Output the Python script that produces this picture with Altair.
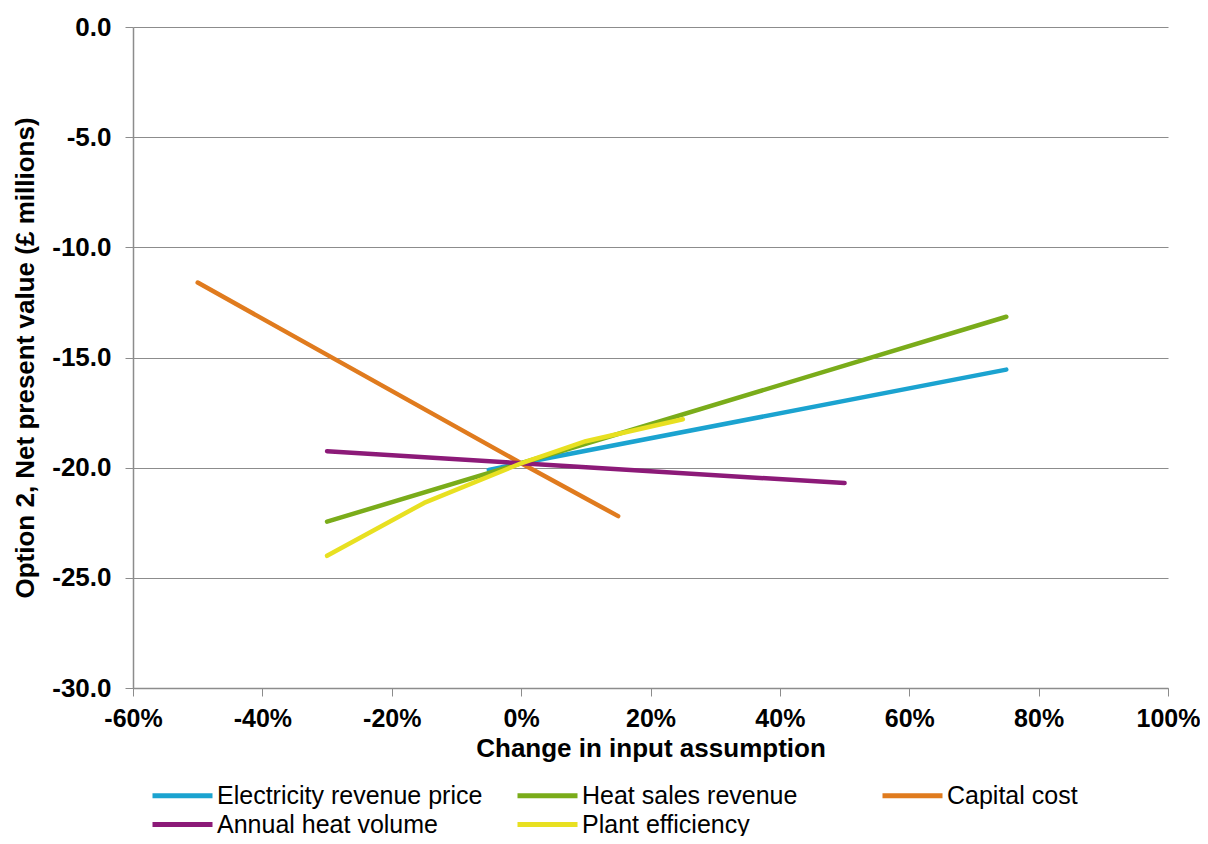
import altair as alt
import pandas as pd

series_names = ["Electricity revenue price", "Heat sales revenue", "Capital cost",
                "Annual heat volume", "Plant efficiency"]
colors = ["#1ba3d0", "#7aac1a", "#e07b1e", "#8c1a78", "#e8e021"]

elec_x = [-0.05, 0.0, 0.75]
elec_y = [-20.1, -19.8, -15.55]
heat_x = [-0.30, 0.0, 0.75]
heat_y = [-22.45, -19.8, -13.15]
cap_x = [-0.50, 0.0, 0.15]
cap_y = [-11.6, -19.8, -22.2]
vol_x = [-0.30, 0.0, 0.50]
vol_y = [-19.25, -19.8, -20.7]
eff_x = [-0.30, -0.15, 0.0, 0.10, 0.25]
eff_y = [-24.0, -21.6, -19.8, -18.8, -17.8]

x_ticks = [-0.6, -0.4, -0.2, 0, 0.2, 0.4, 0.6, 0.8, 1.0]
y_ticks = [-30, -25, -20, -15, -10, -5, 0]

rows = []
for name, xs, ys in zip(series_names,
                        [elec_x, heat_x, cap_x, vol_x, eff_x],
                        [elec_y, heat_y, cap_y, vol_y, eff_y]):
    for i, (a, b) in enumerate(zip(xs, ys)):
        rows.append({"series": name, "x": a, "y": b, "order": i})
df = pd.DataFrame(rows)

font = "Liberation Sans"
fs = 26

chart = alt.Chart(df).mark_line(strokeWidth=4.5, strokeCap="round", strokeJoin="round").encode(
    x=alt.X("x:Q", scale=alt.Scale(domain=[-0.6, 1.0], nice=False),
            axis=alt.Axis(title="Change in input assumption",
                          labelExpr="replace(format(datum.value, '.0%'), '\u2212', '-')",
                          values=x_ticks,
                          grid=False, tickSize=8, labelPadding=10,
                          labelFontSize=25, labelFontWeight="bold", labelFont=font,
                          titleFontSize=fs, titleFontWeight="bold", titleFont=font,
                          titlePadding=4, labelColor="#000", titleColor="#000",
                          domainColor="#8c8c8c", tickColor="#8c8c8c", domainWidth=1.5,
                          labelFlush=False)),
    y=alt.Y("y:Q", scale=alt.Scale(domain=[-30, 0], nice=False),
            axis=alt.Axis(title="Option 2, Net present value (£ millions)",
                          labelExpr="replace(format(datum.value, '.1f'), '\u2212', '-')",
                          values=y_ticks,
                          grid=True, gridColor="#8c8c8c", gridWidth=1.2,
                          tickSize=8, labelPadding=14,
                          labelFontSize=fs, labelFontWeight="bold", labelFont=font,
                          titleFontSize=fs, titleFontWeight="bold", titleFont=font,
                          titlePadding=13, labelColor="#000", titleColor="#000",
                          domainColor="#8c8c8c", tickColor="#8c8c8c", domainWidth=1.5)),
    color=alt.Color("series:N", scale=alt.Scale(domain=series_names, range=colors),
                    legend=alt.Legend(title=None, orient="none", legendX=35, legendY=754,
                                      direction="horizontal",
                                      columns=3, gridAlign="all", columnPadding=24,
                                      rowPadding=1, padding=0,
                                      symbolType="M-2.5,0H2.5", symbolSize=576,
                                      symbolStrokeWidth=5, labelOffset=20,
                                      labelFontSize=25, labelFont=font, labelColor="#000",
                                      labelLimit=400)),
    order="order:Q",
).properties(
    width=1035, height=661,
    padding={"left": 125, "top": 19, "right": 32, "bottom": 148},
    autosize=alt.AutoSizeParams(type="none"),
).configure_view(stroke=None)

chart.save("out.html", embed_options={"renderer": "svg", "actions": False})
